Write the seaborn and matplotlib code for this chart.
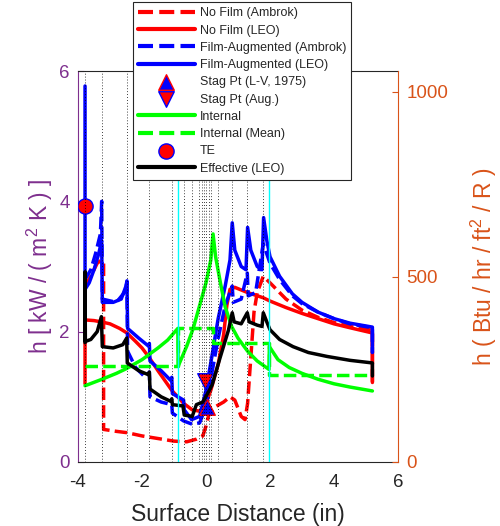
import matplotlib
matplotlib.use("Agg")
import matplotlib.pyplot as plt
import seaborn as sns

# ---------------- data (h in kW/(m^2 K), x in inches) ----------------
red_dash_x = [-3.78, -3.6, -3.4, -3.27, -3.2, -3.2, -2.8, -2.47, -2.0, -1.5, -1.0, -0.6, -0.3, -0.1, 0.0,
              0.1, 0.3, 0.55, 0.75, 0.9, 1.1, 1.22, 1.3, 1.4, 1.5, 1.6, 1.79, 2.0, 2.5, 3.0, 3.5, 4.0,
              4.5, 5.2, 5.2]
red_dash_y = [2.7, 2.85, 3.05, 3.1, 3.05, 0.5, 0.47, 0.45, 0.4, 0.36, 0.32, 0.31, 0.35, 0.4, 0.55,
              0.75, 0.85, 0.92, 1.0, 0.95, 0.7, 0.65, 0.9, 1.6, 2.3, 2.6, 2.85, 2.75, 2.5, 2.33, 2.22, 2.14,
              2.08, 2.02, 1.22]

red_solid_x = [-3.78, -3.78, -3.5, -3.27, -3.0, -2.7, -2.47, -2.2, -2.0, -1.77, -1.5, -1.07, -0.7, -0.43,
               -0.2, 0.0, 0.15, 0.38, 0.55, 0.65, 0.75, 0.9, 1.3, 1.79, 2.0, 2.5, 3.0, 3.5, 4.0, 4.5,
               5.2, 5.2]
red_solid_y = [1.2, 2.18, 2.17, 2.15, 2.12, 2.05, 1.98, 1.85, 1.75, 1.6, 1.4, 1.1, 0.9, 0.8,
               0.78, 0.9, 1.1, 1.5, 1.95, 2.4, 2.65, 2.68, 2.6, 2.52, 2.47, 2.37, 2.28, 2.2, 2.12, 2.06,
               1.98, 1.22]

blue_dash_x = [-3.78, -3.6, -3.45, -3.3, -3.26, -3.24, -2.8, -2.55, -2.47, -2.45, -2.2, -1.9, -1.77,
               -1.75, -1.4, -1.07, -1.05, -0.7, -0.43, -0.2, 0.0, 0.16, 0.38, 0.6, 0.82, 0.85, 1.1,
               1.29, 1.32, 1.55, 1.79, 2.0, 2.3, 2.7, 3.0, 3.5, 4.0, 4.5, 5.2, 5.2]
blue_dash_y = [2.8, 2.95, 3.2, 3.5, 4.0, 2.5, 2.45, 2.6, 2.75, 1.7, 1.45, 1.3, 1.38,
               1.0, 0.92, 0.88, 0.75, 0.63, 0.58, 0.6, 0.85, 1.3, 1.9, 2.4, 2.7, 2.45, 2.5,
               2.9, 2.55, 2.6, 3.35, 3.05, 2.8, 2.55, 2.43, 2.3, 2.2, 2.12, 2.06, 1.68]

blue_solid_x = [-3.78, -3.78, -3.65, -3.5, -3.35, -3.26, -3.24, -2.9, -2.65, -2.5, -2.47, -2.45, -2.1,
                -1.8, -1.77, -1.75, -1.4, -1.1, -1.07, -1.05, -0.7, -0.68, -0.45, -0.2, 0.0, 0.16,
                0.38, 0.6, 0.75, 0.82, 0.9, 1.1, 1.25, 1.3, 1.4, 1.6, 1.75, 1.8, 1.9, 2.0, 2.3, 2.7,
                3.0, 3.5, 4.0, 4.5, 5.2, 5.2]
blue_solid_y = [5.77, 2.65, 2.75, 2.95, 3.2, 3.4, 2.45, 2.45, 2.5, 2.7, 2.78, 2.05, 1.9,
                1.78, 1.82, 1.55, 1.4, 1.25, 1.3, 1.05, 0.95, 0.8, 0.65, 0.7, 1.1, 1.55,
                2.2, 2.7, 3.1, 3.67, 3.25, 3.0, 2.95, 3.6, 3.25, 3.0, 2.95, 3.75, 3.4, 3.15, 2.85, 2.58,
                2.45, 2.3, 2.2, 2.13, 2.07, 1.68]

green_solid_x = [-3.78, -3.3, -2.8, -2.5, -2.0, -1.5, -1.2, -0.88, -0.87, -0.6, -0.4, -0.2, 0.0, 0.15,
                 0.22, 0.3, 0.45, 0.6, 0.8, 1.0, 1.3, 1.6, 1.97, 1.98, 2.25, 2.6, 3.0, 3.5, 4.0, 4.5,
                 5.2]
green_solid_y = [1.17, 1.26, 1.36, 1.43, 1.57, 1.75, 1.87, 2.05, 1.47, 1.78, 2.05, 2.4, 2.75, 3.1,
                 3.5, 3.15, 2.75, 2.38, 2.08, 1.9, 1.7, 1.55, 1.42, 1.77, 1.57, 1.45, 1.36, 1.27, 1.2, 1.15,
                 1.09]

green_dash_x = [-3.78, -0.87, -0.87, 0.22, 0.22, 1.98, 1.98, 5.2]
green_dash_y = [1.47, 1.47, 2.06, 2.06, 1.83, 1.83, 1.34, 1.34]

black_x = [-3.78, -3.78, -3.77, -3.6, -3.4, -3.27, -3.24, -2.9, -2.6, -2.48, -2.46, -2.1, -1.8, -1.77,
           -1.75, -1.4, -1.1, -1.07, -1.05, -0.72, -0.68, -0.43, -0.3, -0.1, 0.05, 0.19, 0.44, 0.7,
           0.82, 0.88, 1.1, 1.29, 1.35, 1.6, 1.75, 1.79, 1.9, 2.0, 2.3, 2.72, 3.2, 3.78, 4.5, 5.2, 5.2]
black_y = [1.83, 2.92, 1.85, 1.88, 2.0, 2.23, 1.77, 1.75, 1.8, 1.9, 1.52, 1.4, 1.34, 1.38,
           1.12, 1.0, 0.93, 0.97, 0.88, 0.86, 0.72, 0.7, 0.88, 0.92, 1.05, 1.18, 1.6, 2.02,
           2.29, 2.15, 2.12, 2.29, 2.15, 2.1, 2.08, 2.29, 2.15, 2.03, 1.88, 1.77, 1.68, 1.62, 1.56, 1.52, 1.32]

stag_lv_x, stag_lv_y = [0.02], [0.85]
stag_aug_x, stag_aug_y = [-0.03], [1.25]
te_x, te_y = [-3.78], [3.93]

panel_x = [-3.78, -3.26, -2.47, -1.77, -1.07, -0.7, -0.43, -0.21, -0.13, -0.06, 0.01, 0.08, 0.16,
           0.38, 0.82, 1.29, 1.79]
cyan_x = [-0.87, 1.98]

x_ticks = [-4, -2, 0, 2, 4, 6]
left_ticks = [0, 2, 4, 6]
right_ticks = [0, 500, 1000]
KW_PER_BTU = 5.678 / 1000.0  # 1 Btu/hr/ft2/R = 5.678 W/(m2 K)

labels = ["No Film (Ambrok)", "No Film (LEO)", "Film-Augmented (Ambrok)", "Film-Augmented (LEO)",
          "Stag Pt (L-V, 1975)", "Stag Pt (Aug.)", "Internal", "Internal (Mean)", "TE", "Effective (LEO)"]

# ---------------- style ----------------
sns.set_style("white")
plt.rcParams["font.family"] = ["Liberation Sans", "DejaVu Sans"]
plt.rcParams["axes.unicode_minus"] = False
plt.rcParams["mathtext.fontset"] = "custom"
plt.rcParams["mathtext.rm"] = "Liberation Sans"
plt.rcParams["mathtext.it"] = "Liberation Sans:italic"
plt.rcParams["mathtext.bf"] = "Liberation Sans:bold"

PURPLE = "#7E2F8E"
ORANGE = "#D95319"
DARK = "#262626"
LW = 2.5
DASH = (0, (3.6, 1.5))

fig = plt.figure(figsize=(5.0, 5.26), dpi=100)
ax = fig.add_axes([0.156, 0.1217, 0.64, 0.7433])

common = dict(ax=ax, sort=False, estimator=None, legend=False, linewidth=LW)
sns.lineplot(x=red_dash_x, y=red_dash_y, color="#FF0000", linestyle=DASH, label=labels[0], zorder=2.0, **common)
sns.lineplot(x=red_solid_x, y=red_solid_y, color="#FF0000", label=labels[1], zorder=2.1, **common)
sns.lineplot(x=blue_dash_x, y=blue_dash_y, color="#0000FF", linestyle=DASH, label=labels[2], zorder=2.2, **common)
sns.lineplot(x=blue_solid_x, y=blue_solid_y, color="#0000FF", label=labels[3], zorder=2.3, **common)
sns.scatterplot(x=stag_lv_x, y=stag_lv_y, ax=ax, marker="^", s=125, color="#0000FF", edgecolor="#FF0000",
                linewidth=1.0, legend=False, label=labels[4], zorder=2.4)
sns.scatterplot(x=stag_aug_x, y=stag_aug_y, ax=ax, marker="v", s=125, color="#FF0000", edgecolor="#0000FF",
                linewidth=1.0, legend=False, label=labels[5], zorder=2.45)
sns.lineplot(x=green_solid_x, y=green_solid_y, color="#00FF00", label=labels[6], zorder=2.5, **common)
sns.lineplot(x=green_dash_x, y=green_dash_y, color="#00FF00", linestyle=DASH, label=labels[7], zorder=2.6, **common)
sns.scatterplot(x=te_x, y=te_y, ax=ax, marker="o", s=120, color="#FF0000", edgecolor="#0000FF",
                linewidth=1.0, legend=False, label=labels[8], zorder=2.7)
sns.lineplot(x=black_x, y=black_y, color="#000000", label=labels[9], zorder=2.8, **common)

for px in panel_x:
    ax.axvline(px, color="black", linewidth=0.6, linestyle=(0, (1, 2.5)), zorder=3)
for cx in cyan_x:
    ax.axvline(cx, color="#00FFFF", linewidth=1.0, zorder=3.1)

ax.set_xlim(-4, 6)
ax.set_ylim(0, 6)
ax.set_xticks(x_ticks)
ax.set_yticks(left_ticks)
ax.tick_params(axis="x", direction="in", length=4, width=0.8, colors=DARK, labelsize=13.5, pad=9)
ax.tick_params(axis="y", direction="in", length=4, width=0.8, colors=PURPLE, labelsize=13.5, pad=6,
               right=True, left=True)
ax.set_xlabel("Surface Distance (in)", fontsize=16.5, color=DARK, labelpad=8)
ax.set_ylabel("h [ kW / ( m$^{2}$ K ) ]", fontsize=16.5, color=PURPLE, labelpad=3)
ax.spines["left"].set_color(PURPLE)
ax.spines["right"].set_visible(False)
ax.spines["bottom"].set_color(DARK)
ax.spines["top"].set_color(DARK)
for s in ax.spines.values():
    s.set_linewidth(0.8)

ax2 = ax.twinx()
ax2.set_ylim(0, 6 / KW_PER_BTU)
ax2.set_yticks(right_ticks)
ax2.tick_params(axis="y", direction="in", length=4, width=0.8, colors=ORANGE, labelsize=13.5, pad=6)
ax2.set_ylabel("h ( Btu / hr / ft$^{2}$ / R )", fontsize=16.5, color=ORANGE, labelpad=15)
for k in ["left", "top", "bottom"]:
    ax2.spines[k].set_visible(False)
ax2.spines["right"].set_color(ORANGE)
ax2.spines["right"].set_linewidth(0.8)

handles, labs = ax.get_legend_handles_labels()
order = [labs.index(l) for l in labels]
leg = fig.legend([handles[i] for i in order], [labs[i] for i in order], loc="upper left",
                 bbox_to_anchor=(0.266, 0.996), borderaxespad=0, fontsize=9, labelspacing=0.42,
                 handlelength=4.5, handletextpad=0.4, borderpad=0.42, fancybox=False, framealpha=1,
                 edgecolor=DARK, facecolor="white")
leg.get_frame().set_linewidth(0.8)
for ln in leg.get_lines():
    ln.set_linewidth(3.0)
leg.set_zorder(10)

fig.savefig("out.png", dpi=100)
